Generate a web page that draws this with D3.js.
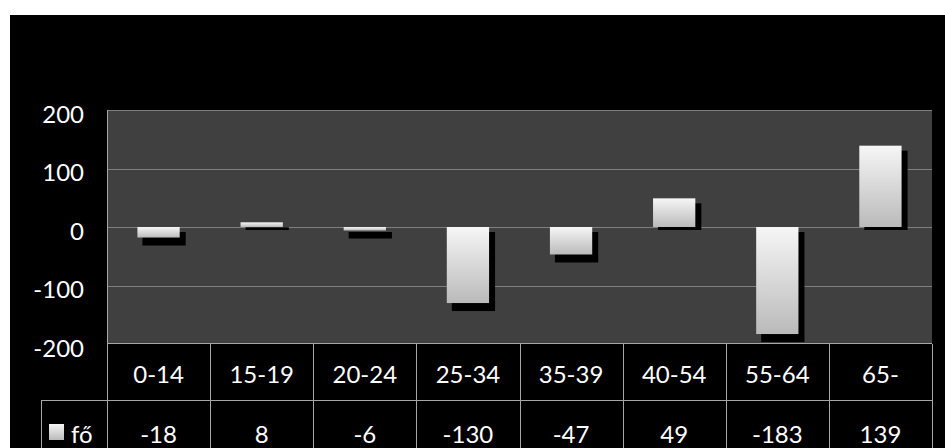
<!DOCTYPE html>
<html>
<head>
<meta charset="utf-8">
<script src="https://cdnjs.cloudflare.com/ajax/libs/d3/7.8.5/d3.min.js"></script>
<style>
  html, body { margin: 0; padding: 0; background: #ffffff; }
  svg { display: block; }
  text { font-family: Lato, "Open Sans", sans-serif; fill: #ffffff; }
</style>
</head>
<body>
<svg id="chart" width="945" height="448"></svg>
<script>
const categories = ["0-14", "15-19", "20-24", "25-34", "35-39", "40-54", "55-64", "65-"];
const values = [-18, 8, -6, -130, -47, 49, -183, 139];
const yTicks = [-200, -100, 0, 100, 200];
const seriesName = "fő";

(function () {
const svg = d3.select("#chart");
const W = 945, H = 448;
const pL = 107, pR = 932, pT = 110, pB = 344;
const rowSplit = 400;

// black background
svg.append("rect").attr("x", 10).attr("y", 15).attr("width", W - 10).attr("height", H - 15).attr("fill", "#000");

const defs = svg.append("defs");
const grad = defs.append("linearGradient").attr("id", "barGrad").attr("x1", 0).attr("y1", 0).attr("x2", 0).attr("y2", 1);
grad.append("stop").attr("offset", "0%").attr("stop-color", "#f6f6f6");
grad.append("stop").attr("offset", "100%").attr("stop-color", "#bababa");

const y = d3.scaleLinear().domain([-200, 200]).range([pB, pT]);
const xCol = d3.scaleBand().domain(categories).range([pL, pR]).padding(0);
const xBar = d3.scaleBand().domain(categories).range([pL, pR]).paddingInner(0.59).paddingOuter(0.295);

// plot area
svg.append("rect").attr("x", pL).attr("y", pT).attr("width", pR - pL).attr("height", pB - pT).attr("fill", "#404040");

// gridlines
svg.append("g").selectAll("line").data(yTicks.filter(t => t > -200)).join("line")
  .attr("x1", pL).attr("x2", pR)
  .attr("y1", d => Math.round(y(d)) + 0.5).attr("y2", d => Math.round(y(d)) + 0.5)
  .attr("stroke", "#7f7f7f").attr("stroke-width", 1);

// y labels
svg.append("g").selectAll("text").data(yTicks).join("text")
  .attr("x", 84).attr("y", d => y(d) + 3)
  .attr("text-anchor", "end").attr("dominant-baseline", "central")
  .attr("font-size", 24).text(d => d);

// shadows
svg.append("g").selectAll("rect").data(values).join("rect")
  .attr("x", (d, i) => xBar(categories[i]) + 5)
  .attr("y", d => Math.min(y(d), y(0)) + 5)
  .attr("width", xBar.bandwidth() + 1)
  .attr("height", d => Math.max(0, Math.abs(y(d) - y(0)) + (d < 0 ? 3 : -2)))
  .attr("fill", "#000");

// bars
svg.append("g").selectAll("rect").data(values).join("rect")
  .attr("x", (d, i) => xBar(categories[i]))
  .attr("y", d => Math.min(y(d), y(0)))
  .attr("width", xBar.bandwidth())
  .attr("height", d => Math.abs(y(d) - y(0)))
  .attr("fill", "url(#barGrad)");

// table lines
const lineColor = "#a6a6a6";
const tl = svg.append("g").attr("stroke", lineColor).attr("stroke-width", 1);
tl.append("line").attr("x1", pL).attr("x2", pR).attr("y1", pB - 0.5).attr("y2", pB - 0.5);
tl.append("line").attr("x1", 41).attr("x2", pR).attr("y1", rowSplit + 0.5).attr("y2", rowSplit + 0.5);
tl.append("line").attr("x1", 41.5).attr("x2", 41.5).attr("y1", rowSplit).attr("y2", H);
tl.append("line").attr("x1", pL + 0.5).attr("x2", pL + 0.5).attr("y1", pT).attr("y2", H);
const bounds = categories.map(c => xCol(c)).slice(1).concat([pR]);
tl.selectAll("line.v").data(bounds).join("line").attr("class", "v")
  .attr("x1", d => Math.round(d) + 0.5).attr("x2", d => Math.round(d) + 0.5)
  .attr("y1", pB).attr("y2", H);

// category labels
svg.append("g").selectAll("text").data(categories).join("text")
  .attr("x", d => xCol(d) + xCol.bandwidth() / 2).attr("y", 373)
  .attr("text-anchor", "middle").attr("dominant-baseline", "central")
  .attr("font-size", 24).text(d => d);

// value labels
svg.append("g").selectAll("text").data(values).join("text")
  .attr("x", (d, i) => xCol(categories[i]) + xCol.bandwidth() / 2).attr("y", 433)
  .attr("text-anchor", "middle").attr("dominant-baseline", "central")
  .attr("font-size", 24).text(d => d);

// legend
svg.append("rect").attr("x", 49).attr("y", 424).attr("width", 15).attr("height", 16).attr("fill", "url(#barGrad)");
svg.append("text").attr("x", 71).attr("y", 433).attr("dominant-baseline", "central")
  .attr("font-size", 24).text(seriesName);
})();
</script>
</body>
</html>
